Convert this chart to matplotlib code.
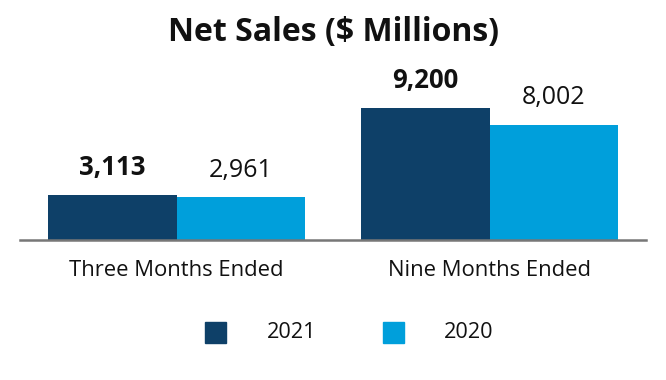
import matplotlib
matplotlib.use("Agg")
import matplotlib.pyplot as plt
from matplotlib.patches import Rectangle

plt.rcParams['font.family'] = ['Open Sans', 'DejaVu Sans']

categories = ["Three Months Ended", "Nine Months Ended"]
series_names = ["2021", "2020"]
values_2021 = [3113, 9200]
values_2020 = [2961, 8002]
labels_2021 = ["3,113", "9,200"]
labels_2020 = ["2,961", "8,002"]

c_dark = "#0E4068"
c_light = "#009FDB"

fig = plt.figure(figsize=(6.66, 3.8), dpi=100)
ax = fig.add_axes([20/666, (380-239.5)/380, 626/666, 200/380])

x = [0, 1]
w = 0.41
b1 = ax.bar([i - w/2 for i in x], values_2021, width=w, color=c_dark)
b2 = ax.bar([i + w/2 for i in x], values_2020, width=w, color=c_light)

ax.set_xlim(-0.5, 1.5)
ax.set_ylim(0, 200 / (132 / 9200))

for rect, lab in zip(b1, labels_2021):
    ax.annotate(lab, (rect.get_x() + rect.get_width()/2, rect.get_height()),
                xytext=(0, 27), textcoords="offset pixels", ha="center", va="center",
                fontsize=18.5, fontweight="bold", color="#111111")
for rect, lab in zip(b2, labels_2020):
    ax.annotate(lab, (rect.get_x() + rect.get_width()/2, rect.get_height()),
                xytext=(0, 27), textcoords="offset pixels", ha="center", va="center",
                fontsize=18, color="#111111")

for s in ["top", "left", "right"]:
    ax.spines[s].set_visible(False)
ax.spines["bottom"].set_color("#777777")
ax.spines["bottom"].set_linewidth(1.8)
ax.set_yticks([])
ax.set_xticks(x)
ax.set_xticklabels(categories, fontsize=15.8, color="#111111")
ax.tick_params(axis="x", length=0, pad=15)

fig.text(333/666, 1 - 33/380, "Net Sales ($ Millions)", ha="center", va="center",
         fontsize=23, fontweight="bold", color="#111111")

# legend
sq = 21
for (xs, xt, col, name) in [(205, 267, c_dark, series_names[0]), (383, 444, c_light, series_names[1])]:
    fig.patches.append(Rectangle((xs/666, 1 - 343/380), sq/666, sq/380,
                                 transform=fig.transFigure, color=col))
    fig.text(xt/666, 1 - 332/380, name, ha="left", va="center", fontsize=15.6, color="#111111")

fig.savefig("out.png", dpi=100, facecolor="white")
